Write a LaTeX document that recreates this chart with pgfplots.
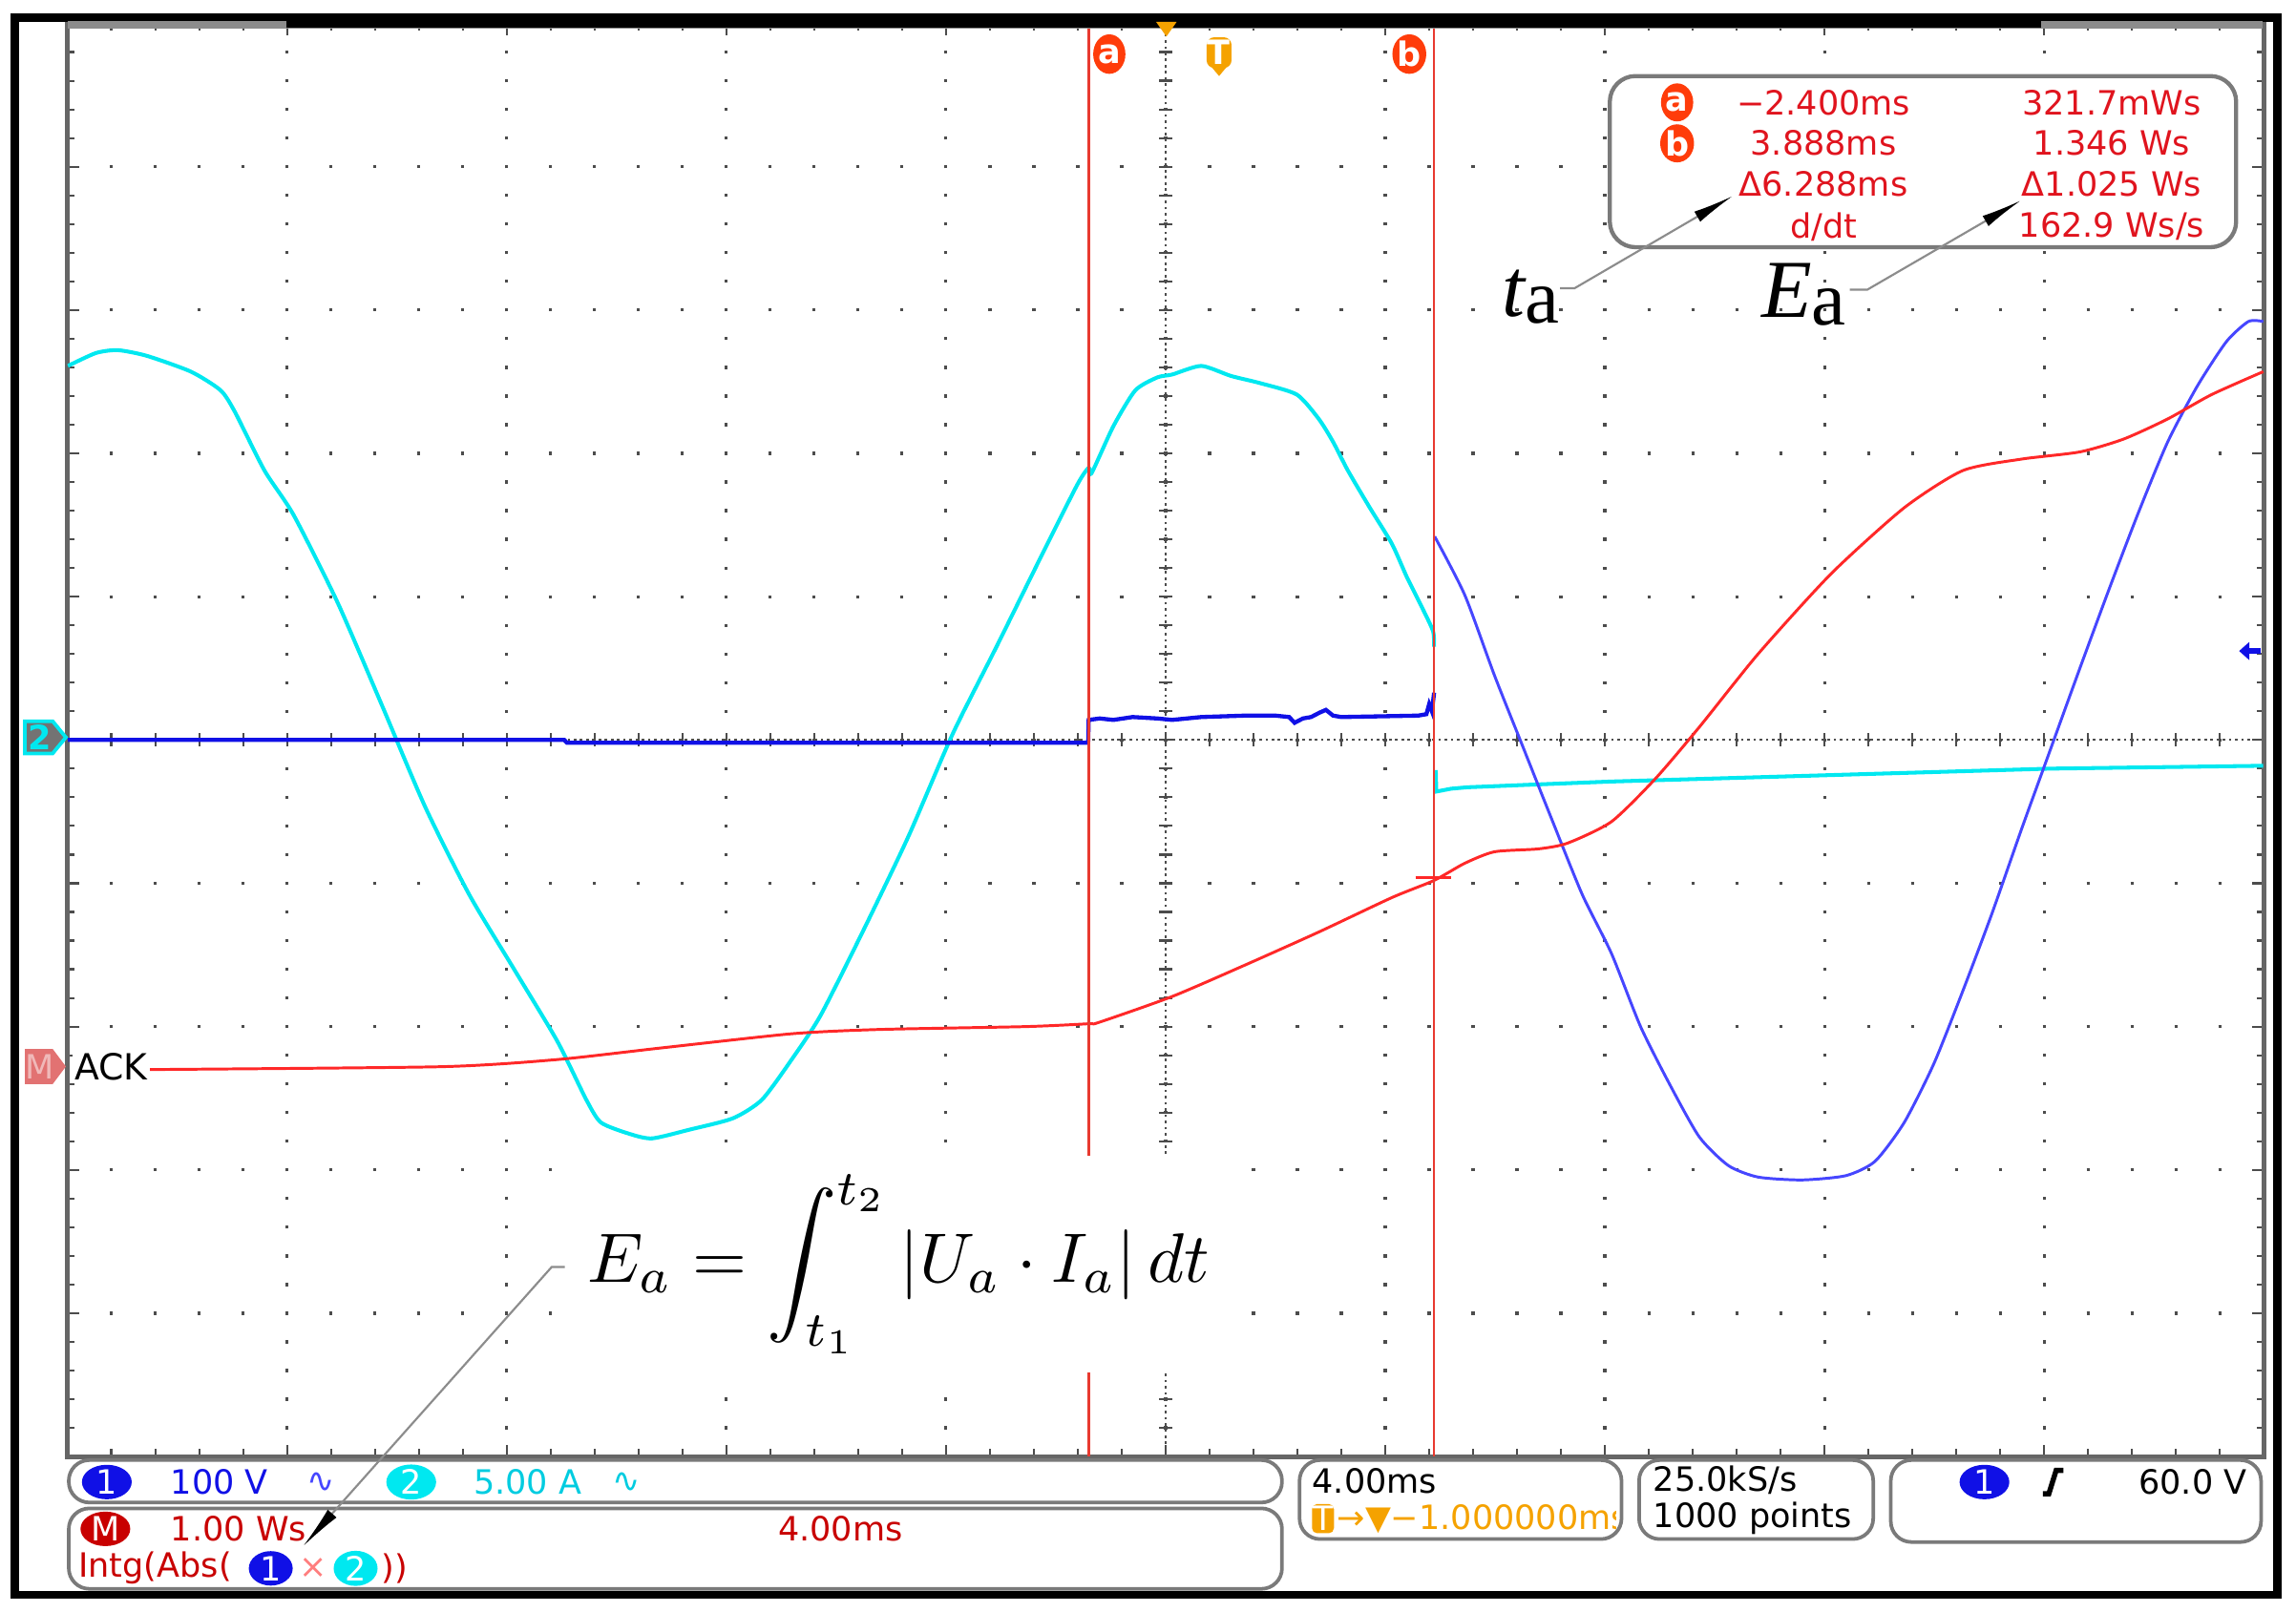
\RequirePackage{fix-cm}
\documentclass[border=0pt]{standalone}
\usepackage{pgfplots}
\pgfplotsset{compat=1.18}
\usepackage{fontspec}
\setmainfont{DejaVu Sans}
\newfontfamily\timesfont{Liberation Serif}
\usetikzlibrary{arrows.meta,shapes.geometric}

\definecolor{chone}{HTML}{1010E6}
\definecolor{chonetr}{HTML}{4646FF}
\definecolor{chtwo}{HTML}{00E8F0}
\definecolor{chtwotxt}{HTML}{00CCE0}
\definecolor{mathred}{HTML}{FF2828}
\definecolor{mathtxt}{HTML}{C80000}
\definecolor{curs}{HTML}{E83A30}
\definecolor{cursbub}{HTML}{FF3C0A}
\definecolor{boxtxt}{HTML}{E0141E}
\definecolor{trig}{HTML}{F5A200}
\definecolor{mmark}{HTML}{E27272}
\definecolor{panel}{HTML}{7A7A7A}
\newcommand{\st}{\fontsize{6.5}{7}\selectfont}

\begin{document}
\begin{tikzpicture}
\path[use as bounding box] (-0.46,-1.06) rectangle (15.22,9.95);

% centre cross of the screen, drawn below the axis
\draw[black!70, line width=0.4pt, dash pattern=on 0.5pt off 0.7pt] (0,4.895) -- (15,4.895);
\draw[black!70, line width=0.4pt, dash pattern=on 0.5pt off 0.7pt] (7.5,0) -- (7.5,9.79);
\foreach \i in {1,...,49} {
  \draw[black!70, line width=0.4pt] (0.3*\i,4.85) -- (0.3*\i,4.94);
  \draw[black!70, line width=0.4pt] (7.455,0.1958*\i) -- (7.545,0.1958*\i);
}

\begin{axis}[
  at={(0,0)}, anchor=south west,
  scale only axis, width=15cm, height=9.79cm,
  xmin=-21, xmax=19, ymin=-5, ymax=5,
  xtick={-21,-17,...,19}, ytick={-5,-4,...,5},
  minor x tick num=4, minor y tick num=4,
  xticklabel=\empty, yticklabel=\empty,
  tick align=inside,
  major tick length=0.08cm, minor tick length=0.05cm,
  tick style={black!70, line width=0.4pt},
  axis line style={black!60, line width=0.9pt},
  grid=major,
  x grid style={black!70, line width=0.6pt, dash pattern=on 0.6pt off 4.971pt, dash phase=0.3pt},
  y grid style={black!70, line width=0.6pt, dash pattern=on 0.6pt off 7.936pt, dash phase=0.3pt},
]
% channel 2 (current), before the cut-off at cursor b
\addplot[chtwo, line width=0.75pt, smooth, tension=0.4] coordinates {
 (-20.99,2.61) (-20.48,2.70) (-20.08,2.72) (-19.55,2.68) (-18.75,2.57) (-18.21,2.44)
 (-17.95,2.29) (-17.41,1.88) (-16.88,1.57) (-16.08,0.96) (-15.28,0.25) (-14.48,-0.47)
 (-13.68,-1.08) (-12.88,-1.59) (-12.08,-2.10) (-11.55,-2.51) (-11.28,-2.67) (-10.75,-2.75)
 (-10.35,-2.78) (-9.68,-2.72) (-8.88,-2.64) (-8.35,-2.51) (-7.81,-2.23) (-7.28,-1.92)
 (-6.48,-1.31) (-5.68,-0.67) (-4.88,0.04) (-4.08,0.65) (-3.28,1.27) (-2.61,1.78)
 (-2.40,1.90) (-2.35,1.86) (-1.95,2.19) (-1.55,2.44) (-1.15,2.53) (-0.88,2.55)
 (-0.35,2.61) (0.19,2.54) (0.72,2.49) (1.39,2.41) (1.79,2.24) (2.05,2.08) (2.32,1.88)
 (2.72,1.62) (3.12,1.37) (3.39,1.14) (3.65,0.94) (3.87,0.76) (3.89,0.65)
};
% channel 2 after cursor b
\addplot[chtwo, line width=0.75pt] coordinates {
 (3.92,-0.21) (3.93,-0.36) (4.20,-0.34) (4.50,-0.33) (5.79,-0.31) (7.12,-0.29)
 (9.79,-0.26) (12.45,-0.23) (15.12,-0.20) (18.99,-0.18)
};
% channel 1 (voltage), flat part and a-b segment
\addplot[chone, line width=0.8pt] coordinates {
 (-20.99,0.0) (-11.95,0.0) (-11.90,-0.02) (-2.41,-0.02) (-2.40,0.14) (-2.20,0.15)
 (-1.95,0.14) (-1.60,0.16) (-1.15,0.15) (-0.88,0.14) (-0.35,0.16) (0.45,0.17) (1.00,0.17)
 (1.25,0.16) (1.35,0.12) (1.50,0.15) (1.65,0.16) (1.80,0.19) (1.92,0.21) (2.05,0.17)
 (2.20,0.16) (3.60,0.17) (3.75,0.18) (3.80,0.25) (3.85,0.20) (3.89,0.33)
};
% channel 1 after cursor b
\addplot[chonetr, line width=0.55pt, smooth, tension=0.4] coordinates {
 (3.90,1.42) (4.45,1.01) (4.99,0.45) (5.52,-0.06) (6.05,-0.57) (6.59,-1.08) (7.12,-1.49)
 (7.65,-2.00) (8.19,-2.41) (8.72,-2.77) (9.25,-2.97) (9.79,-3.05) (10.59,-3.07)
 (11.39,-3.04) (11.92,-2.94) (12.45,-2.67) (12.99,-2.26) (13.52,-1.75) (14.05,-1.21)
 (14.59,-0.62) (15.12,-0.06) (15.65,0.50) (16.19,1.06) (16.72,1.59) (17.25,2.08)
 (17.79,2.47) (18.32,2.78) (18.72,2.92) (18.99,2.92)
};
% math channel M: Intg(Abs(1 x 2))
\addplot[mathred, line width=0.55pt, smooth, tension=0.4] coordinates {
 (-19.62,-2.30) (-14.21,-2.28) (-12.08,-2.23) (-10.21,-2.15) (-7.81,-2.05) (-6.21,-2.02)
 (-3.55,-2.00) (-2.40,-1.98) (-2.21,-1.97) (-0.88,-1.79) (0.45,-1.57) (1.79,-1.34)
 (3.12,-1.10) (3.89,-0.98) (4.45,-0.86) (4.99,-0.78) (5.79,-0.76) (6.32,-0.72)
 (7.12,-0.57) (7.92,-0.27) (8.72,0.09) (9.79,0.60) (11.12,1.16) (12.45,1.62)
 (13.52,1.88) (14.59,1.96) (15.65,2.01) (16.45,2.10) (17.25,2.24) (18.05,2.41) (18.99,2.57)
};
% cursors a and b
\draw[curs, line width=0.5pt] (axis cs:-2.4,-5) -- (axis cs:-2.4,5);
\draw[curs, line width=0.5pt] (axis cs:3.888,-5) -- (axis cs:3.888,5);
\draw[mathred, line width=0.5pt] (axis cs:3.55,-0.96) -- (axis cs:4.2,-0.96);
\end{axis}

% everything else in screen pixels of the reference
\begin{scope}[x=0.01cm, y=-0.01cm, xshift=-0.46cm, yshift=9.95cm]
\draw[line width=1.6pt] (10,12) rectangle (1556,1090);
\draw[black!45, line width=1.4pt] (46,17) -- (1546,17);
\draw[black, line width=1.6pt] (196,16) -- (1395,16);

% top markers
\fill[trig] (790,15) -- (804,15) -- (797,25) -- cycle;
\node[ellipse, fill=cursbub, text=white, inner sep=0, minimum width=0.22cm, minimum height=0.27cm, font=\st\bfseries] at (758,37) {a};
\node[ellipse, fill=cursbub, text=white, inner sep=0, minimum width=0.22cm, minimum height=0.27cm, font=\st\bfseries] at (963,37) {b};
\node[fill=trig, rounded corners=1.5pt, text=white, inner sep=0, minimum width=0.17cm, minimum height=0.21cm, font=\st\bfseries] at (833,36) {T};
\fill[trig] (828,46) -- (838,46) -- (833,52) -- cycle;

% left markers and trigger level
\filldraw[fill=black!55, draw=chtwo, line width=0.7pt] (17,493) -- (36,493) -- (45,504) -- (36,515) -- (17,515) -- cycle;
\node[text=chtwo, font=\st\bfseries] at (27,504) {2};
\fill[mmark] (17,717) -- (36,717) -- (45,729) -- (36,741) -- (17,741) -- cycle;
\node[text=mmark!50!white, font=\st] at (27,729) {M};
\node[anchor=west, fill=white, inner sep=0.4pt, font=\fontsize{7}{7}\selectfont] at (49,729) {ACK};
\draw[chone, line width=1pt, -{Triangle[length=0.07cm, width=0.12cm]}] (1545,445) -- (1530,445);

% cursor readout box
\draw[panel, fill=white, line width=0.8pt, rounded corners=5pt] (1100,52) rectangle (1528,169);
\node[ellipse, fill=cursbub, text=white, inner sep=0, minimum width=0.22cm, minimum height=0.26cm, font=\st\bfseries] at (1146,70) {a};
\node[ellipse, fill=cursbub, text=white, inner sep=0, minimum width=0.22cm, minimum height=0.26cm, font=\st\bfseries] at (1146,98) {b};
\begin{scope}[nodes={font=\st, text=boxtxt, inner sep=0}]
\node at (1246,70) {−2.400ms};
\node at (1246,98) {3.888ms};
\node at (1246,126) {Δ6.288ms};
\node at (1246,155) {d/dt};
\node at (1443,70) {321.7mWs};
\node at (1443,98) {1.346 Ws};
\node at (1443,126) {Δ1.025 Ws};
\node at (1443,155) {162.9 Ws/s};
\end{scope}

% t_a and E_a callouts
\node[anchor=base west, inner sep=0] at (1026,216) {\timesfont\fontsize{16}{16}\selectfont\itshape t\upshape\raisebox{-0.05cm}{\fontsize{15}{15}\selectfont a}};
\node[anchor=base west, inner sep=0] at (1203,217) {\timesfont\fontsize{16}{16}\selectfont\itshape E\upshape\raisebox{-0.05cm}{\fontsize{15}{15}\selectfont a}};
\draw[black!45, line width=0.4pt, -{Latex[black, length=0.28cm, width=0.08cm]}] (1066,197) -- (1076,197) -- (1184,134);
\draw[black!45, line width=0.4pt, -{Latex[black, length=0.28cm, width=0.08cm]}] (1264,198) -- (1276,198) -- (1381,137);

% formula
\fill[white] (385,790) rectangle (846,938);
\node[scale=1.36] at (614,864) {$\displaystyle E_a = \int_{t_1}^{t_2} \left|U_a\cdot I_a\right| dt$};

% bottom panels
\begin{scope}[panel, line width=0.7pt, rounded corners=4pt]
\draw (47,998) rectangle (876,1027);
\draw (47,1031) rectangle (876,1086);
\draw (888,998) rectangle (1108,1052);
\draw (1120,998) rectangle (1280,1052);
\draw (1292,998) rectangle (1545,1054);
\end{scope}
\tikzset{chip/.style={ellipse, fill=#1, text=white, inner sep=0, minimum width=0.34cm, minimum height=0.21cm, font=\st}}
\begin{scope}[nodes={font=\st, inner sep=0}]
\node[chip=chone] at (73,1013) {1};
\node[anchor=west, text=chone] at (116,1013) {100 V};
\node[text=chonetr] at (219,1013) {∿};
\node[chip=chtwo] at (281,1013) {2};
\node[anchor=west, text=chtwotxt] at (323,1013) {5.00 A};
\node[text=chtwotxt] at (428,1013) {∿};
\node[chip=mathtxt] at (72,1045) {M};
\node[anchor=west, text=mathtxt] at (116,1045) {1.00 Ws};
\node[anchor=west, text=mathtxt] at (531,1045) {4.00ms};
\node[anchor=west, text=mathtxt] at (53,1072) {Intg(Abs(};
\node[chip=chone, minimum width=0.3cm] at (185,1072) {1};
\node[text=mathred!60] at (214,1072) {×};
\node[chip=chtwo, minimum width=0.3cm] at (243,1072) {2};
\node[anchor=west, text=mathtxt] at (260,1072) {))};
\node[anchor=west] at (896,1012) {4.00ms};
\node[fill=trig, text=white, rounded corners=1pt, minimum width=0.15cm, minimum height=0.2cm] at (904,1038) {T};
\node[anchor=west] at (1129,1012) {25.0kS/s};
\node[anchor=west] at (1129,1038) {1000 points};
\node[chip=chone] at (1356,1013) {1};
\node[anchor=east] at (1536,1013) {60.0 V};
\end{scope}
\begin{scope}
\clip (912,1025) rectangle (1104,1050);
\node[anchor=west, text=trig, font=\st, inner sep=0] at (913,1038) {→▼−1.000000ms};
\end{scope}
\draw[line width=1pt] (1396,1021) -- (1400,1021) -- (1405,1005) -- (1410,1005);

% leader from the formula
\draw[black!45, line width=0.4pt, -{Latex[black, length=0.3cm, width=0.08cm]}] (386,866) -- (377,866) -- (207,1057);
\end{scope}
\end{tikzpicture}
\end{document}
